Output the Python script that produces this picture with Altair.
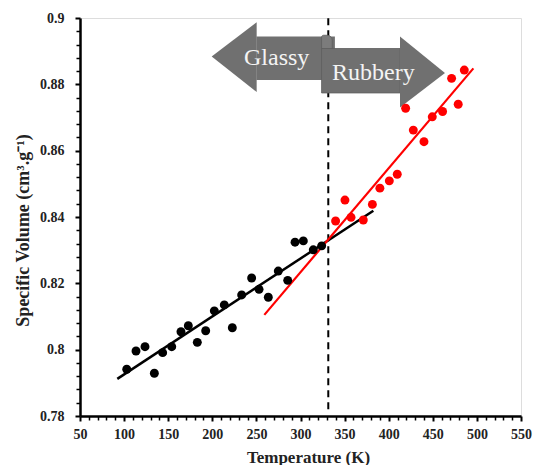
import altair as alt
import pandas as pd

# Glassy region measurements (black)
glassy_T = [103, 113.5, 123.7, 134.3, 143.7, 154, 164.5, 172.8, 183, 192.5, 202.3, 213.6,
            222.7, 233.3, 244.6, 253, 263.5, 274.8, 285.5, 293.8, 303.2, 314.5, 324]
glassy_V = [0.7941, 0.7996, 0.8009, 0.7929, 0.7991, 0.8009, 0.8054, 0.8072, 0.8022, 0.8057,
            0.8117, 0.8135, 0.8066, 0.8165, 0.8216, 0.8182, 0.8158, 0.8237, 0.8209, 0.8324,
            0.8328, 0.8301, 0.8313]

# Rubbery region measurements (red)
rubbery_T = [339.8, 350.4, 357.3, 371.2, 381.5, 390, 400.7, 409.7, 419.2, 427.9, 440, 449.4,
             461.1, 471.3, 478.8, 485.7]
rubbery_V = [0.8388, 0.8451, 0.8399, 0.8391, 0.8438, 0.8487, 0.8509, 0.8529, 0.8728, 0.8662,
             0.8627, 0.8702, 0.8718, 0.8818, 0.8740, 0.8843]

# Linear fit segments (end points)
glassy_fit_T = [92.3, 382.6]
glassy_fit_V = [0.7912, 0.8419]
rubbery_fit_T = [259, 496]
rubbery_fit_V = [0.8105, 0.8848]

# Glass transition temperature
tg = 331.5
tg_span = [0.782, 0.9]

# Arrow heads: tip and base (x, upper edge, lower edge)
glassy_head_T = [199.3, 250.3]
glassy_head_top = [0.8884, 0.8987]
glassy_head_bot = [0.8884, 0.8777]
rubbery_head_T = [412.8, 463.8]
rubbery_head_top = [0.8944, 0.8834]
rubbery_head_bot = [0.8730, 0.8834]

# Arrow shafts: x range and y range
glassy_shaft = [250.0, 339.0, 0.8813, 0.8944]
rubbery_shaft = [323.9, 413.0, 0.8774, 0.8908]
fold_box = [323.9, 336.0, 0.8906, 0.8948]

labels = ["Glassy", "Rubbery"]
label_T = [273, 382.6]
label_V = [0.8880, 0.8834]

x_major = list(range(50, 551, 50))
x_minor = [v for v in range(50, 551, 10) if v % 50]
y_major = [0.78, 0.8, 0.82, 0.84, 0.86, 0.88, 0.9]
y_minor = [round(0.78 + 0.004 * i, 3) for i in range(31) if i % 5]

FONT = "Liberation Serif"
GRAY = "#707070"

xs = alt.Scale(domain=[50, 550], nice=False, zero=False)
ys = alt.Scale(domain=[0.78, 0.9], nice=False, zero=False)

glassy_df = pd.DataFrame({"T": glassy_T, "V": glassy_V})
rubbery_df = pd.DataFrame({"T": rubbery_T, "V": rubbery_V})

x_axis = alt.Axis(values=x_major, orient="bottom", title="Temperature (K)", grid=False,
                  tickSize=5, tickWidth=2, tickColor="black", domainColor="black",
                  domainWidth=2.5, labelFont=FONT, labelFontWeight="bold", labelFontSize=14,
                  labelColor="#222", labelPadding=6, labelFlush=False, titleFont=FONT,
                  titleFontWeight="bold", titleFontSize=17, titleColor="#222",
                  titleBaseline="middle", titleX=228, titleY=41, format="d")
y_axis = alt.Axis(values=y_major, orient="left", title="Specific Volume (cm³.g⁻¹)", grid=False,
                  tickSize=5, tickWidth=2, tickColor="black", domainColor="black",
                  domainWidth=2.5, labelFont=FONT, labelFontWeight="bold", labelFontSize=14,
                  labelColor="#222", labelPadding=11, labelFlush=False, titleFont=FONT,
                  titleFontWeight="bold", titleFontSize=18, titleColor="#222",
                  titleBaseline="middle", titleX=-57, titleY=212,
                  labelExpr="format(datum.value, '.3~f')")

x_minor_axis = alt.Axis(values=x_minor, orient="bottom", title=None, labels=False, grid=False,
                        domain=False, tickSize=4, tickWidth=1.5, tickColor="black")
y_minor_axis = alt.Axis(values=y_minor, orient="left", title=None, labels=False, grid=False,
                        domain=False, tickSize=4, tickWidth=1.5, tickColor="black")

# Tg dashed line
tg_line = alt.Chart(pd.DataFrame({"T": [tg], "V1": [tg_span[0]], "V2": [tg_span[1]]})).mark_rule(
    color="black", strokeWidth=2, strokeDash=[7, 5]
).encode(
    x=alt.X("T:Q", scale=xs, axis=x_minor_axis),
    y=alt.Y("V1:Q", scale=ys, axis=y_minor_axis),
    y2="V2:Q",
)


def head(ts, tops, bots):
    df = pd.DataFrame({"T": ts, "top": tops, "bot": bots})
    return alt.Chart(df).mark_area(color=GRAY, opacity=1, orient="vertical").encode(
        x=alt.X("T:Q", scale=xs, axis=None),
        y=alt.Y("top:Q", scale=ys, axis=None, stack=None),
        y2="bot:Q",
    )


def box(vals, color=GRAY, **kw):
    df = pd.DataFrame({"x1": [vals[0]], "x2": [vals[1]], "y1": [vals[2]], "y2": [vals[3]]})
    return alt.Chart(df).mark_rect(color=color, opacity=1, **kw).encode(
        x=alt.X("x1:Q", scale=xs, axis=None), x2="x2:Q",
        y=alt.Y("y1:Q", scale=ys, axis=None), y2="y2:Q",
    )


glassy_head = head(glassy_head_T, glassy_head_top, glassy_head_bot)
glassy_body = box(glassy_shaft)
rubbery_head = head(rubbery_head_T, rubbery_head_top, rubbery_head_bot)
rubbery_body = box(rubbery_shaft, stroke="#5e5e5e", strokeWidth=0.8)
# Scroll fold joining the two arrows
fold = box(fold_box, color="#7c7c7c", stroke="#5e5e5e", strokeWidth=0.8,
           cornerRadiusTopRight=5, cornerRadiusTopLeft=2)

arrow_text = alt.Chart(pd.DataFrame({"T": label_T, "V": label_V, "lab": labels})).mark_text(
    font=FONT, fontSize=24, color="#f4f4f4", align="center", baseline="middle"
).encode(
    x=alt.X("T:Q", scale=xs, axis=None),
    y=alt.Y("V:Q", scale=ys, axis=None),
    text="lab:N",
)

glassy_fit = alt.Chart(pd.DataFrame({"T": glassy_fit_T, "V": glassy_fit_V})).mark_line(
    color="black", strokeWidth=2.5
).encode(x=alt.X("T:Q", scale=xs, axis=None), y=alt.Y("V:Q", scale=ys, axis=None))

rubbery_fit = alt.Chart(pd.DataFrame({"T": rubbery_fit_T, "V": rubbery_fit_V})).mark_line(
    color="#ff0000", strokeWidth=2.2
).encode(x=alt.X("T:Q", scale=xs, axis=None), y=alt.Y("V:Q", scale=ys, axis=None))

glassy_pts = alt.Chart(glassy_df).mark_circle(color="black", size=80, opacity=1).encode(
    x=alt.X("T:Q", scale=xs, axis=x_axis),
    y=alt.Y("V:Q", scale=ys, axis=y_axis),
)

rubbery_pts = alt.Chart(rubbery_df).mark_circle(color="#ff0000", size=80, opacity=1).encode(
    x=alt.X("T:Q", scale=xs, axis=None),
    y=alt.Y("V:Q", scale=ys, axis=None),
)

chart = alt.layer(
    tg_line, glassy_head, glassy_body, fold, rubbery_body, rubbery_head, arrow_text,
    glassy_fit, rubbery_fit, glassy_pts, rubbery_pts,
).resolve_axis(x="independent", y="independent").properties(
    width=441, height=398,
    autosize=alt.AutoSizeParams(type="none"),
    padding={"left": 80, "top": 18, "right": 12, "bottom": 49},
).configure_view(stroke="black", strokeWidth=2.5).configure(background="white")

chart.save("out.html", embed_options={"renderer": "svg", "actions": False})
